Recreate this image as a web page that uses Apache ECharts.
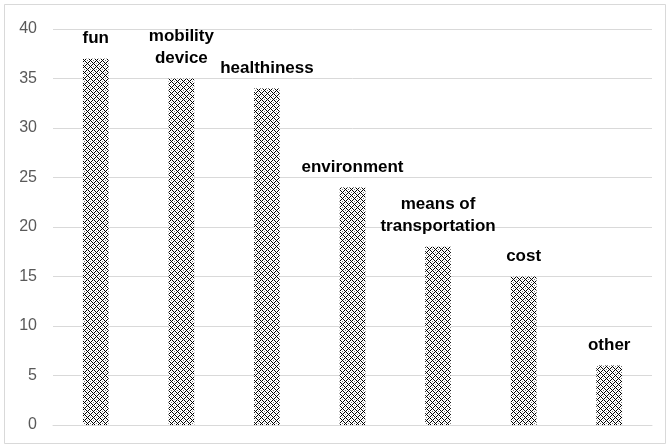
<!DOCTYPE html>
<html><head><meta charset="utf-8">
<script src="https://cdn.jsdelivr.net/npm/echarts@6/dist/echarts.min.js"></script>
<style>html,body{margin:0;padding:0;background:#fff}#c{width:670px;height:448px}</style>
</head><body><div id="c"></div>
<script>
const categories = ["fun", "mobility\ndevice", "healthiness", "environment", "means of\ntransportation", "cost", "other"];
const values = [37, 35, 34, 24, 18, 15, 6];
const yTicks = { min: 0, max: 40, interval: 5 };

function makePattern() {
  const c = document.createElement('canvas');
  c.width = 6; c.height = 6;
  const g = c.getContext('2d');
  g.fillStyle = '#ffffff'; g.fillRect(0, 0, 6, 6);
  g.fillStyle = '#000000';
  const pts = [[0,0],[1,1],[2,2],[3,3],[4,2],[5,1],[1,5],[2,4],[4,4],[5,5]];
  pts.forEach(p => g.fillRect(p[0], p[1], 1, 1));
  g.fillStyle = '#777777';
  g.fillRect(3, 0, 1, 1); g.fillRect(0, 3, 1, 1);
  return c;
}

const chart = echarts.init(document.getElementById('c'), null, { renderer: 'canvas' });
chart.setOption({
  animation: false,
  backgroundColor: '#fff',
  graphic: [{ type: 'rect', shape: { x: 4.5, y: 4.5, width: 661, height: 439 }, style: { fill: 'none', stroke: '#d9d9d9', lineWidth: 1 }, silent: true }],
  grid: { left: 53, right: 18, top: 29, bottom: 23 },
  xAxis: {
    type: 'category', data: categories,
    axisLine: { show: true, lineStyle: { color: '#d9d9d9' } },
    axisTick: { show: false }, axisLabel: { show: false }
  },
  yAxis: {
    type: 'value', min: yTicks.min, max: yTicks.max, interval: yTicks.interval,
    axisLine: { show: false }, axisTick: { show: false },
    axisLabel: { color: '#595959', fontSize: 16, fontFamily: 'Liberation Sans, Arial, sans-serif', margin: 16 },
    splitLine: { lineStyle: { color: '#d9d9d9', width: 1 } }
  },
  series: [{
    type: 'bar', data: values, barWidth: '30%',
    itemStyle: { color: { image: makePattern(), repeat: 'repeat' } },
    label: {
      show: true, position: 'top', distance: 9,
      formatter: p => categories[p.dataIndex],
      color: '#000', fontSize: 17, fontWeight: 'bold', lineHeight: 22,
      fontFamily: 'Liberation Sans, Arial, sans-serif'
    }
  }]
});
</script></body></html>
